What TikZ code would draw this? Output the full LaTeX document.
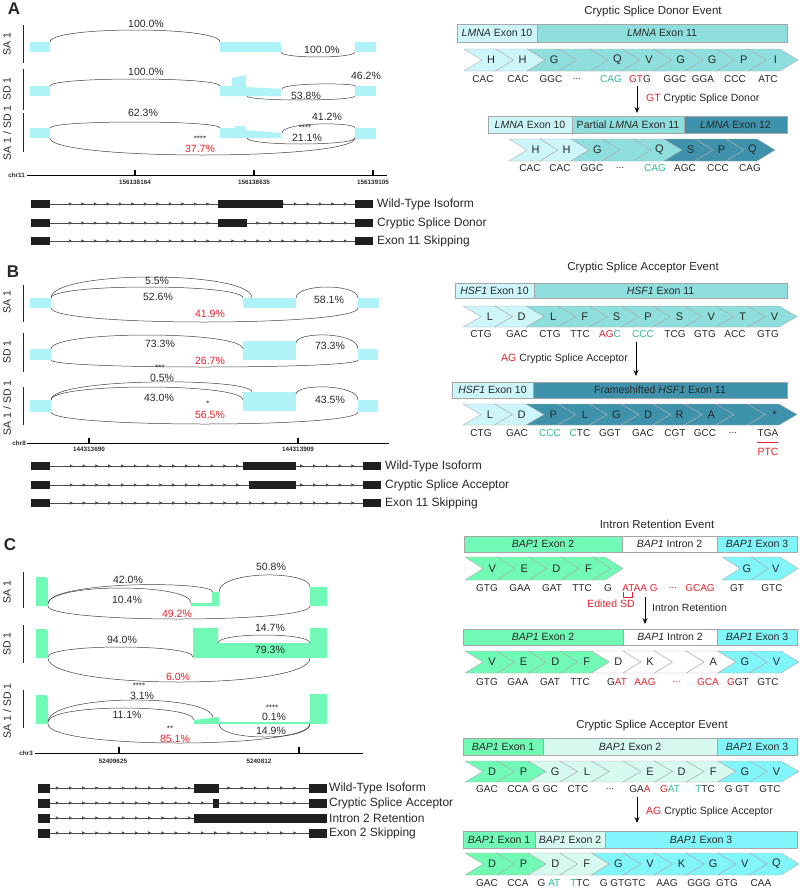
\documentclass[tikz,border=0pt]{standalone}
\usepackage{fontspec}
\setmainfont{Liberation Sans}
\usetikzlibrary{arrows.meta,decorations.markings}
\definecolor{cov}{RGB}{175,242,248}
\definecolor{grn}{RGB}{112,250,182}
\definecolor{cA}{RGB}{205,246,250}
\definecolor{cB}{RGB}{142,222,222}
\definecolor{cD}{RGB}{62,146,172}
\definecolor{cE}{RGB}{128,246,250}
\definecolor{cM}{RGB}{215,250,240}
\definecolor{tg}{RGB}{45,185,150}
\definecolor{rd}{RGB}{225,35,45}
\definecolor{txt}{RGB}{40,40,40}
\newcommand\fs[1]{\fontsize{#1}{#1}\selectfont}
\newcommand\ddd{...}
\def\mychd{18}
\newcommand\sash[5]{\pgfmathsetmacro\sashcy{(#5-(#2+#4)/8)*4/3}\draw[sasharc] (#1,#2) .. controls (#1,\sashcy) and (#3,\sashcy) .. (#3,#4);}
\newcommand\chevrow[5]{%
  \foreach \chc/\chl [count=\chn from 0] in {#5}{%
    \pgfmathsetmacro\chxa{#1+\chn*#4}%
    \pgfmathsetmacro\chxb{\chxa+#4}%
    \pgfmathsetmacro\chxm{(#2+#3)/2}%
    \filldraw[chevline, fill=\chc] (\chxa,#2) -- (\chxb,#2) -- (\chxb+\mychd,\chxm) -- (\chxb,#3) -- (\chxa,#3) -- (\chxa+\mychd,\chxm) -- cycle;
    \node[aa] at (\chxa+0.855*#4,\chxm) {\chl};}}
\newcommand\codons[2]{\foreach \cdx/\cdt in {#2}{\node[cod] at (\cdx,#1) {\cdt};}}
\newcommand\seg[6]{\filldraw[barline, fill=#5] (#1,#3) rectangle (#2,#4);
  \node[bt] at ({(#1+#2)/2},{(#3+#4)/2}) {#6};}
\newcommand\gi[1]{\textit{#1}}
\begin{document}
\begin{tikzpicture}[x=1pt,y=-1pt,
  sasharc/.style={draw=black!75, line width=0.5pt},
  pct/.style={font=\fs{10.5}, text=txt, inner sep=0},
  rpct/.style={pct, text=rd},
  stars/.style={font=\fs{8}, text=txt, inner sep=0},
  trk/.style={rotate=90, font=\fs{10.5}, text=txt, inner sep=0},
  trkline/.style={draw=black!85, line width=1pt},
  axl/.style={draw=black, line width=0.8pt},
  tick/.style={draw=black, line width=1.6pt},
  axt/.style={font=\bfseries\fs{6.3}, text=txt, inner sep=0},
  exon/.style={fill=black!88},
  intron/.style 2 args={draw=black!70, line width=0.6pt, postaction={decorate},
    decoration={markings, mark=between positions #1 and -6pt step #2 with {\arrow{Triangle[length=3.2pt,width=3.2pt]}}}},
  iso/.style={anchor=west, font=\fs{12}, text=txt, inner sep=0},
  plab/.style={font=\bfseries\fs{17}, text=txt, inner sep=0},
  ttl/.style={font=\fs{11.5}, text=txt, inner sep=0},
  barline/.style={draw=gray!70, line width=0.5pt},
  bt/.style={font=\fs{10.5}, text=txt, inner sep=0},
  chevline/.style={draw=gray!65, line width=0.4pt},
  aa/.style={font=\fs{11}, text=txt, inner sep=0},
  cod/.style={font=\fs{10}, text=txt, inner sep=0},
  lab/.style={font=\fs{10.5}, text=txt, inner sep=0},
  arr/.style={-{Stealth[length=6pt,width=5pt]}, draw=black, line width=1pt}]
\path[use as bounding box, fill=white] (0,0) rectangle (800,889);

% ================= PANEL A (left) =================
\node[plab] (pA) at (14,9) {A};
\draw[trkline] (23,25) -- (23,63);
\draw[trkline] (23,69) -- (23,110);
\draw[trkline] (23,113) -- (23,152);
\node[trk] (tA1) at (7,44) {SA 1};
\node[trk] (tA2) at (7,89) {SD 1};
\node[trk] (tA3) at (7,133) {SA 1 / SD 1};
% SA1
\fill[cov] (30,42) rectangle (50,52);
\fill[cov] (220,42) rectangle (281,52);
\fill[cov] (355,42) rectangle (376,52);
\sash{50}{42}{220}{42}{30}
\sash{281}{52}{355}{52}{57}
\node[pct] at (146,24) {100.0\%};
\node[pct] at (322,50) {100.0\%};
% SD1
\fill[cov] (30,86) rectangle (50,96);
\fill[cov] (220,96) -- (220,86) -- (232,86) -- (232,78) -- (246,75) -- (246,87) -- (281,89) -- (281,96) -- cycle;
\fill[cov] (355,86) rectangle (376,96);
\sash{50}{86}{220}{86}{79}
\sash{247}{96}{355}{96}{100}
\sash{282}{89}{355}{86}{84}
\node[pct] at (146,72) {100.0\%};
\node[pct] at (306,96) {53.8\%};
\node[pct] at (366,76) {46.2\%};
% SA1/SD1
\fill[cov] (30,128) rectangle (50,138);
\fill[cov] (220,138) -- (220,128) -- (235,128) -- (235,126) -- (245,126) -- (246,130) -- (281,133) -- (281,138) -- cycle;
\fill[cov] (355,128) rectangle (376,139);
\sash{50}{128}{220}{128}{122}
\sash{50}{138}{355}{138}{155}
\sash{247}{138}{355}{138}{144}
\sash{282}{133}{355}{128}{124}
\node[pct] at (143,113) {62.3\%};
\node[stars] at (200,139) {****};
\node[rpct] at (200,149) {37.7\%};
\node[stars] at (305,128) {****};
\node[pct] at (307,138) {21.1\%};
\node[pct] at (327,117) {41.2\%};
% axis
\draw[axl] (27,175) -- (387,175);
\foreach \tx/\tl in {135/156138164, 254/156138635, 373/156139105}{
  \draw[tick] (\tx,170) -- (\tx,175);
  \node[axt] at (\tx,182) {\tl};}
\node[axt, anchor=east] (chrA) at (25,175) {chr11};
% isoforms
\foreach \iy in {204,223,241}{\draw[intron={22pt}{12.5pt}] (50,\iy) -- (355,\iy);
  \fill[exon] (31,\iy-4) rectangle (50,\iy+4);
  \fill[exon] (355,\iy-4) rectangle (373,\iy+4);}
\fill[exon] (218,200) rectangle (283,208);
\fill[exon] (218,219) rectangle (247,227);
\node[iso] (iA1) at (377,204) {Wild-Type Isoform};
\node[iso] (iA2) at (377,223) {Cryptic Splice Donor};
\node[iso] (iA3) at (377,241) {Exon 11 Skipping};

% ================= PANEL A (right) =================
\node[ttl] (ttlA) at (653,12) {Cryptic Splice Donor Event};
\seg{457}{537}{24}{42}{cA}{\gi{LMNA} Exon 10}
\seg{537}{787}{24}{42}{cB}{\gi{LMNA} Exon 11}
\chevrow{464}{49}{71}{31.6}{cA/H, cA/H, cB/G, cB/{}, cB/Q, cB/V, cB/G, cB/G, cB/P, cB/I}
\codons{79}{483/CAC, 518/CAC, 551/GGC, 577/\ddd, 611/{\textcolor{tg}{CAG}}, 640/{\textcolor{rd}{GT}G}, 675/GGC, 703/GGA, 735/CCC, 768/ATC}
\coordinate (aA1) at (637,86);
\coordinate (aA2) at (637,113);
\draw[arr] (aA1) -- (aA2);
\node[lab, anchor=west] (lA) at (646,99) {\textcolor{rd}{GT} Cryptic Splice Donor};
\seg{488}{572}{116}{133}{cA}{\gi{LMNA} Exon 10}
\seg{572}{684}{116}{133}{cB}{Partial \gi{LMNA} Exon 11}
\seg{684}{787}{116}{133}{cD}{\gi{LMNA} Exon 12}
\chevrow{509}{139}{161}{31}{cA/H, cA/H, cB/G, cB/{}, cB/Q, cD/S, cD/P, cD/Q}
\codons{168}{530/CAC, 560/CAC, 592/GGC, 620/\ddd, 655/{\textcolor{tg}{CAG}}, 685/AGC, 718/CCC, 750/CAG}

% ================= PANEL B (left) =================
\node[plab] (pB) at (13,272) {B};
\draw[trkline] (23,285) -- (23,322);
\draw[trkline] (23,333) -- (23,372);
\draw[trkline] (23,387) -- (23,425);
\node[trk] (tB1) at (7,302) {SA 1};
\node[trk] (tB2) at (7,352) {SD 1};
\node[trk] (tB3) at (7,408) {SA 1 / SD 1};
% SA1
\fill[cov] (30,298) rectangle (51,308);
\fill[cov] (243,298) rectangle (296,308);
\fill[cov] (358,298) rectangle (379,308);
\sash{51}{298}{252}{298}{277}
\sash{51}{298}{243}{298}{287}
\sash{51}{308}{358}{308}{322}
\sash{296}{298}{358}{298}{287}
\node[pct] at (157,281) {5.5\%};
\node[pct] at (158,297) {52.6\%};
\node[rpct] at (210,314) {41.9\%};
\node[pct] at (329,300) {58.1\%};
% SD1
\fill[cov] (30,349) rectangle (51,360);
\fill[cov] (243,341) rectangle (296,360);
\fill[cov] (358,349) rectangle (378,360);
\sash{51}{349}{243}{349}{335}
\sash{51}{360}{358}{360}{367}
\sash{296}{343}{358}{349}{335}
\node[pct] at (160,344) {73.3\%};
\node[rpct] at (210,361) {26.7\%};
\node[pct] at (330,346) {73.3\%};
% SA1/SD1
\fill[cov] (30,400) rectangle (51,412);
\fill[cov] (243,392) rectangle (296,411);
\fill[cov] (358,400) rectangle (378,412);
\sash{51}{400}{252}{392}{382}
\sash{51}{400}{243}{400}{387}
\sash{51}{412}{358}{412}{424}
\sash{296}{394}{358}{400}{387}
\node[stars] at (160,368) {***};
\node[pct] at (162,377.5) {0.5\%};
\node[pct] at (159,398) {43.0\%};
\node[stars] at (208,404) {*};
\node[rpct] at (210,415) {56.5\%};
\node[pct] at (330,400) {43.5\%};
% axis
\draw[axl] (27,443) -- (389,443);
\foreach \tx/\tl in {89/144313690, 298/144313909}{
  \draw[tick] (\tx,438) -- (\tx,443);
  \node[axt] at (\tx,449) {\tl};}
\node[axt, anchor=east] (chrB) at (26,443) {chr8};
% isoforms
\foreach \iy in {466,485,503}{\draw[intron={23pt}{12.8pt}] (50,\iy) -- (363,\iy);
  \fill[exon] (31,\iy-4) rectangle (50,\iy+4);
  \fill[exon] (363,\iy-4) rectangle (381,\iy+4);}
\fill[exon] (243,462) rectangle (296,470);
\fill[exon] (249,481) rectangle (296,489);
\node[iso] (iB1) at (385,466) {Wild-Type Isoform};
\node[iso] (iB2) at (385,485) {Cryptic Splice Acceptor};
\node[iso] (iB3) at (385,503) {Exon 11 Skipping};

% ================= PANEL B (right) =================
\node[ttl] (ttlB) at (643,268) {Cryptic Splice Acceptor Event};
\seg{455}{534}{283}{298}{cA}{\gi{HSF1} Exon 10}
\seg{534}{787}{283}{298}{cB}{\gi{HSF1} Exon 11}
\chevrow{463}{306}{327}{31.6}{cA/L, cA/D, cB/L, cB/F, cB/S, cB/P, cB/S, cB/V, cB/T, cB/V}
\codons{334}{481/CTG, 517/GAC, 550/CTG, 580/TTC, 610/{\textcolor{rd}{AG}\textcolor{tg}{C}}, 643/{\textcolor{tg}{CCC}}, 675/TCG, 705/GTG, 735/ACC, 768/GTG}
\node[lab, anchor=east] (lB) at (628,359) {\textcolor{rd}{AG} Cryptic Splice Acceptor};
\coordinate (aB1) at (636,342);
\coordinate (aB2) at (636,376);
\draw[arr] (aB1) -- (aB2);
\seg{452}{533}{382}{398}{cA}{\gi{HSF1} Exon 10}
\seg{533}{787}{382}{398}{cD}{Frameshifted \gi{HSF1} Exon 11}
\chevrow{463}{404}{425}{31.6}{cA/L, cA/D, cD/P, cD/L, cD/G, cD/D, cD/R, cD/A, cD/{}, cD/*}
\codons{433}{481/CTG, 517/GAC, 550/{\textcolor{tg}{CCC}}, 580/{\textcolor{tg}{C}TC}, 610/GGT, 643/GAC, 675/CGT, 705/GCC, 733/\ddd, 768/TGA}
\draw[draw=rd, line width=1pt] (757,442) -- (778,442);
\node[lab, text=rd] (ptc) at (768,452) {PTC};

% ================= PANEL C (left) =================
\node[plab] (pC) at (10,545) {C};
\draw[trkline] (23,572) -- (23,608);
\draw[trkline] (23,625) -- (23,663);
\draw[trkline] (23,690) -- (23,728);
\node[trk] (tC1) at (7,592) {SA 1};
\node[trk] (tC2) at (7,644) {SD 1};
\node[trk] (tC3) at (7,711) {SA 1 / SD 1};
% SA1
\fill[grn] (36,606) -- (36,577) -- (42,577) .. controls (48,577) .. (48,584) -- (48,606) -- cycle;
\fill[grn] (191,606) -- (191,603) -- (212,603) -- (212,592) -- (219,592) -- (219,606) -- cycle;
\fill[grn] (310,587) rectangle (327,606);
\sash{48}{604}{213}{592}{585}
\sash{48}{604}{191}{603}{588}
\sash{48}{606}{310}{606}{619}
\sash{219}{592}{310}{587}{575}
\node[pct] at (128,580) {42.0\%};
\node[pct] at (127,600) {10.4\%};
\node[rpct] at (177,614) {49.2\%};
\node[pct] at (271,567) {50.8\%};
% SD1
\fill[grn] (36,658) -- (36,629) -- (42,629) .. controls (48,629) .. (48,636) -- (48,658) -- cycle;
\fill[grn] (193,658) -- (193,628) -- (218,628) -- (218,643) -- (310,643) -- (310,658) -- cycle;
\fill[grn] (310,628) rectangle (327,658);
\sash{48}{657}{193}{657}{647}
\sash{218}{643}{310}{643}{635}
\sash{48}{658}{310}{658}{682}
\node[pct] at (122,640) {94.0\%};
\node[pct] at (270,628) {14.7\%};
\node[pct] at (270,650) {79.3\%};
\node[rpct] at (178,677) {6.0\%};
% SA1/SD1
\fill[grn] (36,724) -- (36,695) -- (42,695) .. controls (48,695) .. (48,702) -- (48,724) -- cycle;
\fill[grn] (194,724) -- (194,720) -- (219,717) -- (219,722) -- (310,722) -- (310,724) -- cycle;
\fill[grn] (310,694) rectangle (327,724);
\sash{48}{722}{213}{718}{700}
\sash{48}{722}{194}{720}{708}
\sash{48}{724}{310}{724}{743}
\sash{219}{724}{310}{724}{737}
\node[stars] at (139,686) {****};
\node[pct] at (142,695.5) {3.1\%};
\node[pct] at (127,715) {11.1\%};
\node[stars] at (170,728.5) {**};
\node[rpct] at (175,739) {85.1\%};
\node[stars] at (272,707.5) {****};
\node[pct] at (274,717) {0.1\%};
\node[pct] at (271,731) {14.9\%};
% axis
\draw[axl] (35,753) -- (363,753);
\draw[tick] (119,747) -- (119,753);
\draw[tick] (299,747) -- (299,753);
\node[axt] at (113,761) {52409625};
\node[axt] at (259,761) {5240812};
\node[axt, anchor=east] (chrC) at (33,753) {chr3};
% isoforms
\foreach \iy in {788,803,818,833}{\draw[intron={9pt}{13.2pt}] (50,\iy) -- (309,\iy);
  \fill[exon] (38,\iy-4.5) rectangle (50,\iy+4.5);
  \fill[exon] (309,\iy-4.5) rectangle (327,\iy+4.5);}
\fill[exon] (194,783.5) rectangle (219,792.5);
\fill[exon] (213,798.5) rectangle (219,807.5);
\fill[exon] (194,813.5) rectangle (327,822.5);
\node[iso] (iC1) at (329,788) {Wild-Type Isoform};
\node[iso] (iC2) at (329,803) {Cryptic Splice Acceptor};
\node[iso] (iC3) at (329,818) {Intron 2 Retention};
\node[iso] (iC4) at (329,833) {Exon 2 Skipping};

% ================= PANEL C (right) =================
\node[ttl] (ttlC1) at (657,524) {Intron Retention Event};
\seg{464}{622}{536}{552}{grn}{\gi{BAP1} Exon 2}
\seg{622}{717}{536}{552}{white}{\gi{BAP1} Intron 2}
\seg{717}{797}{536}{552}{cE}{\gi{BAP1} Exon 3}
\chevrow{465}{557}{580}{32}{grn/V, grn/E, grn/D, grn/F}
\filldraw[chevline, fill=grn] (593,557) -- (605,557) -- (623,568.5) -- (605,580) -- (593,580) -- (611,568.5) -- cycle;
\chevrow{722}{557}{580}{29}{cE/G, cE/V}
\codons{588}{487/GTG, 520/GAA, 552/GAT, 582/TTC, 608/G, 640/{\textcolor{rd}{ATAA G}}, 673/{\textcolor{rd}{\ddd}}, 700/{\textcolor{rd}{GCAG}}, 737/GT, 772/GTC}
\draw[draw=rd, line width=0.8pt] (623,592) -- (623,597) -- (632,597) -- (632,592);
\node[lab, text=rd] (esd) at (611,604) {Edited SD};
\coordinate (aC1) at (645,597);
\coordinate (aC2) at (645,624);
\draw[arr] (aC1) -- (aC2);
\node[lab, anchor=west] (lC1) at (652,608) {Intron Retention};
\seg{463}{623}{629}{645}{grn}{\gi{BAP1} Exon 2}
\seg{623}{717}{629}{645}{white}{\gi{BAP1} Intron 2}
\seg{717}{797}{629}{645}{cE}{\gi{BAP1} Exon 3}
\chevrow{465}{651}{673}{31.6}{grn/V, grn/E, grn/D, grn/F, white/D, white/K, white/{}, white/A, cE/G, cE/V}
\codons{682}{487/GTG, 518/GAA, 550/GAT, 580/TTC, 617/{G\textcolor{rd}{AT}}, 645/{\textcolor{rd}{AAG}}, 677/{\textcolor{rd}{\ddd}}, 708/{\textcolor{rd}{GCA}}, 738/{\textcolor{rd}{G}GT}, 768/GTC}

\node[ttl] (ttlC2) at (652,726) {Cryptic Splice Acceptor Event};
\seg{463}{543}{738}{755}{grn}{\gi{BAP1} Exon 1}
\seg{543}{717}{738}{755}{cM}{\gi{BAP1} Exon 2}
\seg{717}{797}{738}{755}{cE}{\gi{BAP1} Exon 3}
\chevrow{465}{761}{782}{31.6}{grn/D, grn/P, cM/G, cM/L, cM/{}, cM/E, cM/D, cM/F, cE/G, cE/V}
\codons{789}{487/GAC, 518/CCA, 545/G GC, 578/CTC, 610/\ddd, 640/{GA\textcolor{rd}{A}}, 670/{\textcolor{rd}{G}\textcolor{tg}{AT}}, 705/{\textcolor{tg}{T}TC}, 737/G GT, 770/GTC}
\coordinate (aC3) at (637,797);
\coordinate (aC4) at (637,823);
\draw[arr] (aC3) -- (aC4);
\node[lab, anchor=west] (lC2) at (646,812) {\textcolor{rd}{AG} Cryptic Splice Acceptor};
\seg{463}{535}{831}{848}{grn}{\gi{BAP1} Exon 1}
\seg{535}{605}{831}{848}{cM}{\gi{BAP1} Exon 2}
\seg{605}{797}{831}{848}{cE}{\gi{BAP1} Exon 3}
\chevrow{465}{853}{875}{31.6}{grn/D, grn/P, cM/D, cM/F, cE/G, cE/V, cE/K, cE/G, cE/V, cE/Q}
\codons{883}{487/GAC, 518/CCA, 549/{G \textcolor{tg}{AT}}, 580/{\textcolor{tg}{T}TC}, 612/G GT, 635/GTC, 667/AAG, 699/GGG, 727/GTG, 761/CAA}
\end{tikzpicture}
\end{document}
